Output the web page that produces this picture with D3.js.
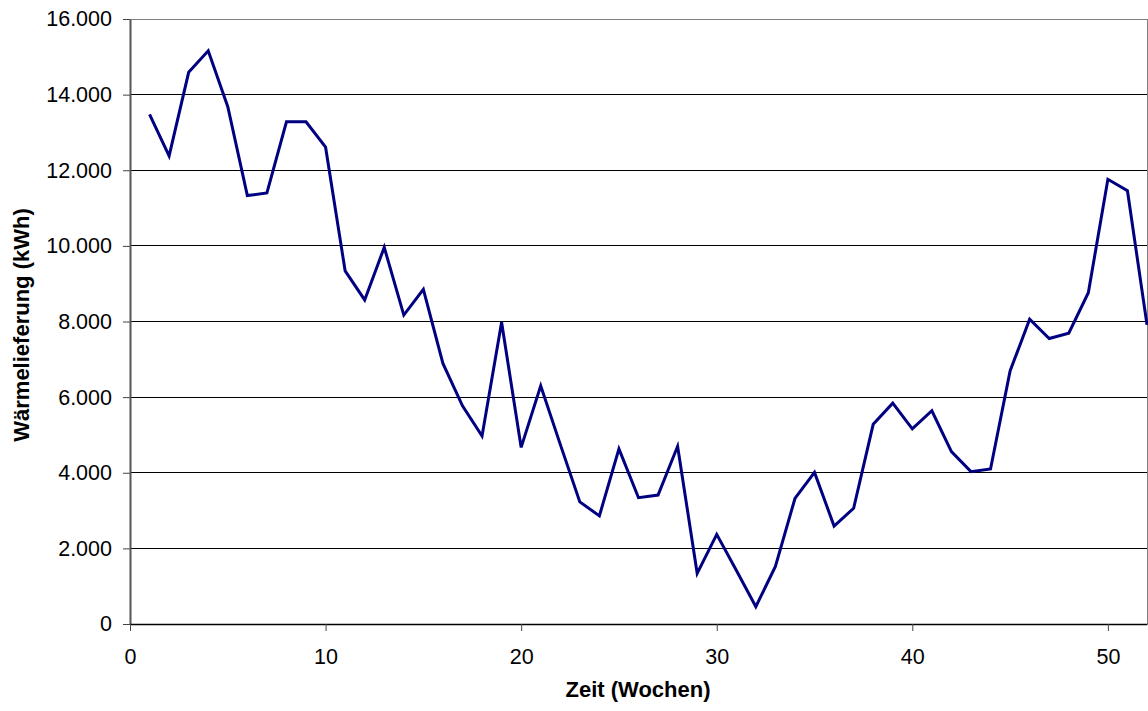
<!DOCTYPE html>
<html><head><meta charset="utf-8">
<script src="https://cdn.jsdelivr.net/npm/d3@7"></script>
<style>body{margin:0;background:#fff;}svg{display:block;font-family:"Liberation Sans",Arial,sans-serif;}</style>
</head><body>
<svg id="c" width="1148" height="711"></svg>
<script>
const weeks = d3.range(1, 53);
const values = [13480,12380,14590,15160,13680,11330,11400,13280,13280,12610,
  9340,8570,9960,8170,8850,6890,5770,4970,7980,4670,
  6300,4750,3230,2860,4630,3340,3410,4700,1340,2370,
  1420,460,1520,3320,4010,2590,3060,5280,5840,5160,
  5640,4560,4030,4100,6690,8060,7550,7690,8760,11760,
  11460,7910];
const xTicks = [0,10,20,30,40,50];
const yTicks = [0,2000,4000,6000,8000,10000,12000,14000,16000];
const xTitle = "Zeit (Wochen)";
const yTitle = "Wärmelieferung (kWh)";

const svg = d3.select("#c");
const L = 130, R = 1147, T = 19, B = 624;
const x = d3.scaleLinear().domain([0,52]).range([L,R]);
const y = d3.scaleLinear().domain([0,16000]).range([B,T]);
const fmt = d => d3.format(",")(d).replace(/,/g, ".");

// gridlines
svg.append("g").selectAll("line").data(yTicks.filter(d=>d>0)).join("line")
  .attr("x1", L).attr("x2", R).attr("y1", d=>y(d)).attr("y2", d=>y(d))
  .attr("stroke", d => d===16000 ? "#808080" : "#000").attr("stroke-width", 1)
  .attr("shape-rendering","crispEdges");
// right border
svg.append("line").attr("x1",R).attr("x2",R).attr("y1",T).attr("y2",B)
  .attr("stroke","#808080").attr("shape-rendering","crispEdges");

// axes
const yAxis = svg.append("g").attr("transform",`translate(${L},0)`)
  .call(d3.axisLeft(y).tickValues(yTicks).tickFormat(fmt).tickSize(7).tickPadding(11).tickSizeOuter(0));
const xAxis = svg.append("g").attr("transform",`translate(0,${B})`)
  .call(d3.axisBottom(x).tickValues(xTicks).tickSize(7).tickPadding(18).tickSizeOuter(0));
[yAxis,xAxis].forEach(a=>{
  a.select(".domain").attr("stroke","#000").attr("stroke-width",1.3);
  a.selectAll(".tick line").attr("stroke","#444");
  a.selectAll("text").attr("font-size",21.5).attr("fill","#000")
   .attr("font-family","'Liberation Sans',Arial,sans-serif");
});
yAxis.select(".domain").attr("stroke","#555").attr("stroke-width",2);

// line
svg.append("path").datum(weeks.map((w,i)=>[w,values[i]]))
  .attr("fill","none").attr("stroke","#000080").attr("stroke-width",3)
  .attr("stroke-linejoin","miter")
  .attr("d", d3.line().x(d=>x(d[0])).y(d=>y(d[1])));

// titles
svg.append("text").attr("x", 638).attr("y", 697).attr("text-anchor","middle")
  .attr("font-size",22).attr("font-weight","bold").text(xTitle);
svg.append("text").attr("transform",`translate(29,325) rotate(-90)`)
  .attr("text-anchor","middle").attr("font-size",22).attr("font-weight","bold").text(yTitle);
</script>
</body></html>
